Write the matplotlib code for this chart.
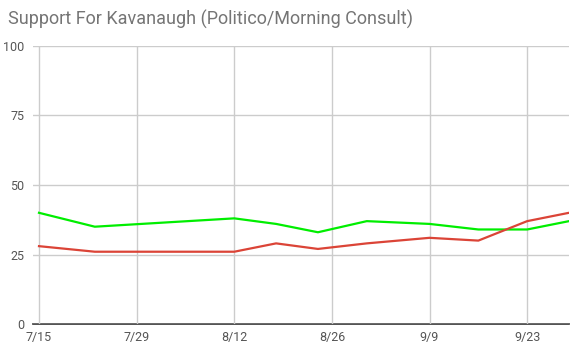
import matplotlib
matplotlib.use("Agg")
import matplotlib.pyplot as plt
import matplotlib.dates as mdates
import numpy as np
from datetime import date, timedelta

# poll dates (2018) and support values
dates = ["2018-07-15", "2018-07-23", "2018-08-12", "2018-08-18", "2018-08-24",
         "2018-08-31", "2018-09-09", "2018-09-16", "2018-09-23", "2018-09-29"]
support_green = [40, 35, 38, 36, 33, 37, 36, 34, 34, 37]
support_red = [28, 26, 26, 29, 27, 29, 31, 30, 37, 40]

tick_dates = ["2018-07-15", "2018-07-29", "2018-08-12", "2018-08-26",
              "2018-09-09", "2018-09-23"]
tick_labels = ["7/15", "7/29", "8/12", "8/26", "9/9", "9/23"]
y_ticks = [0, 25, 50, 75, 100]

plt.rcParams['font.family'] = ['Roboto', 'DejaVu Sans']

W, H = 587, 354
fig = plt.figure(figsize=(W / 100, H / 100), dpi=100)
ax = fig.add_axes([33 / W, 30 / H, (569 - 33) / W, (324 - 46) / H])

x = [mdates.date2num(np.datetime64(d)) for d in dates]
ax.plot(x, support_green, color="#00ee00", linewidth=1.6, solid_joinstyle="round")
ax.plot(x, support_red, color="#db4437", linewidth=1.6, solid_joinstyle="round")

xt = [mdates.date2num(np.datetime64(d)) for d in tick_dates]
ax.set_xticks(xt)
ax.set_xticklabels(tick_labels)
ax.set_xlim(xt[0] - 0.86, x[-1])
ax.set_ylim(0, 100)
ax.set_yticks(y_ticks)

ax.grid(True, color="#cccccc", linewidth=1)
ax.set_axisbelow(True)
for s in ["top", "right", "left"]:
    ax.spines[s].set_visible(False)
ax.spines["bottom"].set_color("#333333")
ax.spines["bottom"].set_linewidth(1.2)
ax.spines["bottom"].set_zorder(0.5)
ax.tick_params(length=0, labelsize=9, labelcolor="#555555")
ax.tick_params(axis="y", pad=6)
ax.tick_params(axis="x", pad=5)

fig.text(8 / W, 1 - 19 / H, "Support For Kavanaugh (Politico/Morning Consult)",
         fontsize=13, color="#757575", va="center", ha="left")

fig.savefig("out.png", dpi=100)
